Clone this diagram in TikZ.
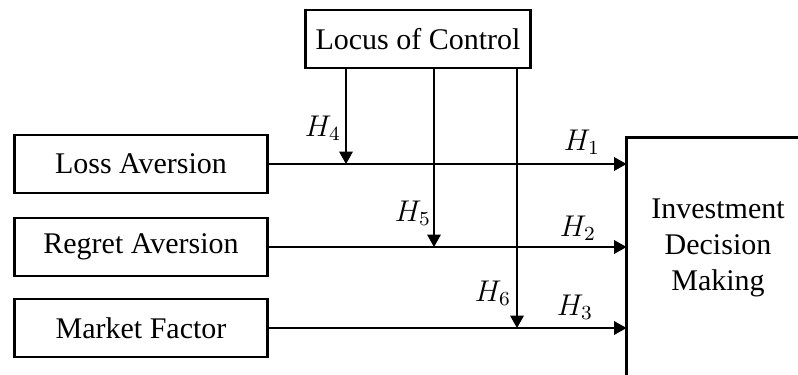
\documentclass[tikz,border=0pt,12pt]{standalone}
\usepackage{fontspec}
\setmainfont{Liberation Serif}
\usetikzlibrary{arrows.meta,positioning}
\tikzset{
  varbox/.style={
    draw,
    line width=1.1pt,
    minimum width=101pt,
    minimum height=23.2pt,
    align=center
  },
  outcome/.style={
    align=center,
    minimum width=72.8pt,
    minimum height=88pt
  },
  flow/.style={-{Triangle[length=5pt,width=5.5pt]},line width=0.5pt},
  hyp/.style={inner sep=1pt}
}

\begin{document}
\begin{tikzpicture}[x=0.4pt,y=-0.4pt]
  \useasboundingbox (0,0) rectangle (798,374);
  \clip (0,0) rectangle (798,374);
  \node[varbox,minimum width=89.6pt] (locus) at (418,39) {Locus of Control};
  \node[varbox] (loss) at (141,164) {Loss Aversion};
  \node[varbox] (regret) at (141,247) {Regret Aversion};
  \node[varbox] (market) at (141,328) {Market Factor};
  \node[outcome] (idm) at (718,248) {Investment\\Decision\\Making};
  \draw[line width=1.1pt] (idm.north east) -- (idm.north west) -- (idm.south west) -- ++(0,40);
  % moderator meeting points
  \coordinate (m4) at (346,164);
  \coordinate (m5) at (434,247);
  \coordinate (m6) at (517,328);
  \draw[flow] (loss.east) -- (loss.east -| idm.west);
  \draw[flow] (regret.east) -- (regret.east -| idm.west);
  \draw[flow] (market.east) -- (market.east -| idm.west);
  \draw[flow] (locus.south -| m4) -- (m4);
  \draw[flow] (locus.south -| m5) -- (m5);
  \draw[flow] (locus.south -| m6) -- (m6);
  \node[hyp] (h1) at (582,142) {$H_1$};
  \node[hyp] (h2) at (578,228) {$H_2$};
  \node[hyp] (h3) at (575,307) {$H_3$};
  \node[hyp] (h4) at (323,128) {$H_4$};
  \node[hyp] (h5) at (413,213) {$H_5$};
  \node[hyp] (h6) at (493,293) {$H_6$};
\end{tikzpicture}
\end{document}
